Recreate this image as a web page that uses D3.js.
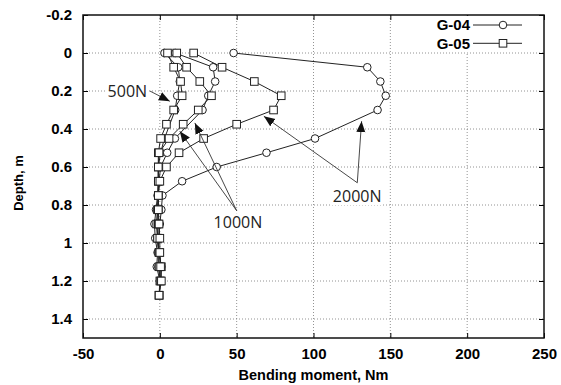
<!DOCTYPE html>
<html>
<head>
<meta charset="utf-8">
<script src="https://cdn.jsdelivr.net/npm/d3@7"></script>
<style>
  body { margin: 0; background: #fff; }
  svg text { font-family: "Liberation Sans", Arial, sans-serif; }
  .tick text { font-size: 15px; font-weight: bold; fill: #000; }
  .grid line { stroke: #777; stroke-width: 0.8; stroke-dasharray: 1 2; }
  .series path { fill: none; stroke: #222; stroke-width: 1; }
  .marker { fill: #fff; stroke: #222; stroke-width: 1; }
  .note { font-family: "Open Sans", sans-serif !important; font-size: 16px; fill: #222; }
  .leader { stroke: #333; stroke-width: 0.9; }
</style>
</head>
<body>
<svg id="chart" width="561" height="385"></svg>
<script>
// depths (m) at which moments were read
const depthG04 = [0, 0.075, 0.15, 0.225, 0.3, 0.45, 0.525, 0.6, 0.675, 0.75, 0.825, 0.9, 0.975, 1.05, 1.125, 1.2];
const depthG05 = [0, 0.075, 0.15, 0.225, 0.3, 0.375, 0.45, 0.525, 0.6, 0.675, 0.75, 0.825, 0.9, 0.975, 1.05, 1.125, 1.2, 1.275];

// bending moment (Nm), G-04 (circles)
const g04_500N  = [3, 12, 13, 11.3, 10, 3, 0.5, -1, -1, -1.5, -2.5, -3.5, -3, -1.5, -2, 0];
const g04_1000N = [10, 34.7, 36, 31.5, 27.8, 9.8, 4.8, 0.5, -0.5, -1, -1.5, -2, -1.5, -1, -1, 0.5];
const g04_2000N = [48, 135, 143.5, 147, 141.7, 101, 69.4, 37, 14.5, 1.7, 1, 0, -1, -0.5, 1, 0.5];

// bending moment (Nm), G-05 (squares)
const g05_500N  = [5, 9, 13.5, 14.5, 9, 4.3, 0.5, -1, -1, -1, -1, -1.5, -2, -1.5, -0.5, -0.5, 0, -0.5];
const g05_1000N = [11, 17.4, 26, 33.6, 25, 15.2, 6, -0.5, -1, -1, -1, -1, -1, -1.5, -0.5, 1, 0.5, -0.5];
const g05_2000N = [22, 40.5, 61.5, 79, 74, 50, 28.5, 12.5, 4.3, 0, -1, -1, -0.5, 0, 0, 0.5, 1, -0.5];

const xTicks = [-50, 0, 50, 100, 150, 200, 250];
const yTicks = [-0.2, 0, 0.2, 0.4, 0.6, 0.8, 1, 1.2, 1.4];
const legendNames = ["G-04", "G-05"];

const series = [
    { shape: 'circle', depth: depthG04, values: g04_500N },
    { shape: 'circle', depth: depthG04, values: g04_1000N },
    { shape: 'circle', depth: depthG04, values: g04_2000N },
    { shape: 'square', depth: depthG05, values: g05_500N },
    { shape: 'square', depth: depthG05, values: g05_1000N },
    { shape: 'square', depth: depthG05, values: g05_2000N }
];

// load labels with their leader arrows, in data units (moment, depth)
const notes = [
    { text: '500N',  at: [-34, 0.2],   from: [-6.5, 0.2],   tips: [[6.5, 0.254]] },
    { text: '1000N', at: [35, 0.892],  from: [50, 0.83],    tips: [[13, 0.412], [22.8, 0.368]] },
    { text: '2000N', at: [112.6, 0.755], from: [128.5, 0.683], tips: [[67.7, 0.333], [131.3, 0.359]] }
];

const chart = {
    left: 83, right: 544, top: 15, bottom: 338,
    svg: d3.select('#chart'),
    x: d3.scaleLinear().domain([-50, 250]),
    y: d3.scaleLinear().domain([-0.2, 1.5])
};
chart.x.range([chart.left, chart.right]);
chart.y.range([chart.top, chart.bottom]);

const svg = chart.svg;
const x = chart.x, y = chart.y;

svg.append('defs').append('marker')
    .attr('id', 'head')
    .attr('markerUnits', 'userSpaceOnUse')
    .attr('markerWidth', 12).attr('markerHeight', 10)
    .attr('refX', 11).attr('refY', 5)
    .attr('orient', 'auto')
    .append('path')
    .attr('d', 'M0,0.5 L11,5 L0,9.5 Z')
    .attr('fill', '#111');

// dotted grid
const grid = svg.append('g').attr('class', 'grid');
grid.selectAll('.gx')
    .data(xTicks.filter(d => d > -50 && d < 250))
    .enter().append('line')
    .attr('x1', d => x(d)).attr('x2', d => x(d))
    .attr('y1', chart.top).attr('y2', chart.bottom);
grid.selectAll('.gy')
    .data(yTicks.filter(d => d > -0.2))
    .enter().append('line')
    .attr('x1', chart.left).attr('x2', chart.right)
    .attr('y1', d => y(d)).attr('y2', d => y(d));

// axes (ticks point inward)
svg.append('g')
    .attr('transform', `translate(0,${chart.bottom})`)
    .call(d3.axisBottom(x).tickValues(xTicks).tickFormat(String).tickSizeInner(-5).tickSizeOuter(0).tickPadding(10))
    .call(g => g.select('.domain').remove());
svg.append('g')
    .attr('transform', `translate(0,${chart.top})`)
    .call(d3.axisTop(x).tickValues(xTicks).tickFormat('').tickSizeInner(-5).tickSizeOuter(0))
    .call(g => g.select('.domain').remove());
svg.append('g')
    .attr('transform', `translate(${chart.left},0)`)
    .call(d3.axisLeft(y).tickValues(yTicks).tickFormat(String).tickSizeInner(-5).tickSizeOuter(0).tickPadding(11))
    .call(g => g.select('.domain').remove());
svg.append('g')
    .attr('transform', `translate(${chart.right},0)`)
    .call(d3.axisRight(y).tickValues(yTicks).tickFormat('').tickSizeInner(-5).tickSizeOuter(0))
    .call(g => g.select('.domain').remove());
svg.selectAll('.tick line').attr('stroke', '#000');

// legend background hides grid behind it
svg.append('rect')
    .attr('x', 432).attr('y', chart.top + 1)
    .attr('width', chart.right - 433).attr('height', 36)
    .attr('fill', '#fff');

// series
const line = d3.line()
    .x(d => x(d[0]))
    .y(d => y(d[1]));

const sg = svg.append('g').attr('class', 'series');
series.forEach(s => {
    const pts = s.values.map((v, i) => [v, s.depth[i]]);
    sg.append('path').attr('d', line(pts));
    drawMarkers(sg, pts, s.shape);
});

function drawMarkers(g, pts, shape) {
    if (shape === 'circle') {
        g.selectAll(null).data(pts).enter().append('circle')
            .attr('class', 'marker')
            .attr('cx', d => x(d[0])).attr('cy', d => y(d[1]))
            .attr('r', 3.8);
    } else {
        g.selectAll(null).data(pts).enter().append('rect')
            .attr('class', 'marker')
            .attr('x', d => x(d[0]) - 3.8).attr('y', d => y(d[1]) - 3.8)
            .attr('width', 7.6).attr('height', 7.6);
    }
}

// frame
svg.append('rect')
    .attr('x', chart.left).attr('y', chart.top)
    .attr('width', chart.right - chart.left).attr('height', chart.bottom - chart.top)
    .attr('fill', 'none').attr('stroke', '#111').attr('stroke-width', 1.5);

// load annotations
const ng = svg.append('g');
notes.forEach(n => {
    const t = ng.append('text')
        .attr('class', 'note')
        .attr('x', x(n.at[0])).attr('y', y(n.at[1]))
        .attr('dy', '0.36em')
        .text(n.text);
    const bb = t.node().getBBox();
    ng.insert('rect', 'text')
        .attr('x', bb.x - 1).attr('y', bb.y + 2)
        .attr('width', bb.width + 2).attr('height', bb.height - 4)
        .attr('fill', '#fff');
    n.tips.forEach(tp => {
        ng.append('line')
            .attr('class', 'leader')
            .attr('x1', x(n.from[0])).attr('y1', y(n.from[1]))
            .attr('x2', x(tp[0])).attr('y2', y(tp[1]))
            .attr('marker-end', 'url(#head)');
    });
});

// legend
const lg = svg.append('g');
legendNames.forEach((name, i) => {
    const ly = 25 + i * 18.3;
    lg.append('text')
        .attr('x', 470).attr('y', ly)
        .attr('dy', '0.36em')
        .attr('text-anchor', 'end')
        .style('font-size', '15px').style('font-weight', 'bold')
        .text(name);
    lg.append('line')
        .attr('x1', 473).attr('x2', 522)
        .attr('y1', ly).attr('y2', ly)
        .attr('stroke', '#222').attr('stroke-width', 1);
    drawMarkers(lg, [[x.invert(503), y.invert(ly)]], i === 0 ? 'circle' : 'square');
});

// axis titles
svg.append('text')
    .attr('x', (chart.left + chart.right) / 2).attr('y', 380)
    .attr('text-anchor', 'middle')
    .style('font-size', '14.5px').style('font-weight', 'bold')
    .text('Bending moment, Nm');
svg.append('text')
    .attr('transform', 'translate(23,183) rotate(-90)')
    .attr('text-anchor', 'middle')
    .style('font-size', '13px').style('font-weight', 'bold')
    .text('Depth, m');
</script>
</body>
</html>
